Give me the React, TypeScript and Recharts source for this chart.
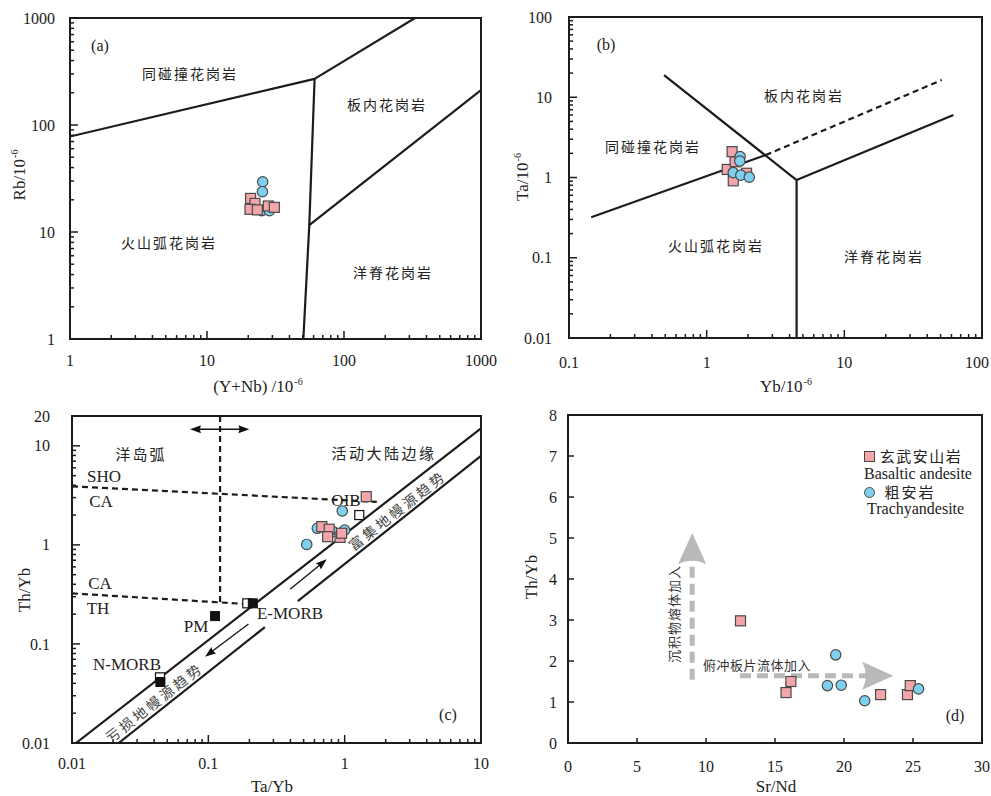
import React from 'react';
import { ScatterChart, Scatter, XAxis, YAxis, ReferenceArea, ReferenceLine } from 'recharts';

const W = 495;
const H = 400;
const SERIF = '"Liberation Serif", "Times New Roman", serif';
const CJK = '"Noto Sans CJK SC", "Noto Sans CJK JP", sans-serif';
const INK = '#1c1c1c';
const PINK = '#F3A6AA';
const BLUE = '#7FCFEF';
const EDGE = '#4a4a4a';

// ---------- (a) Rb vs Y+Nb
const aXLabels = [1, 10, 100, 1000];
const aYLabels = [1, 10, 100, 1000];
const aSquares = [
  { x: 20.8, y: 20.6 }, { x: 22.4, y: 18.5 }, { x: 20.6, y: 16.3 },
  { x: 23.3, y: 16.1 }, { x: 28.0, y: 17.5 }, { x: 31.0, y: 17.0 },
];
const aCircles = [
  { x: 25.5, y: 29.5 }, { x: 25.4, y: 23.8 }, { x: 25.1, y: 15.8 }, { x: 28.5, y: 15.8 },
];
const aSynVag = [{ x: 1, y: 78 }, { x: 61, y: 270 }, { x: 330, y: 1000 }];
const aVagOrg = [{ x: 61, y: 270 }, { x: 55.8, y: 11.6 }, { x: 50.5, y: 1 }];
const aWpgOrg = [{ x: 55.8, y: 11.6 }, { x: 1000, y: 212 }];

// ---------- (b) Ta vs Yb
const bXLabels = [0.1, 1, 10, 100];
const bYLabels = [0.01, 0.1, 1, 10, 100];
const bSquares = [
  { x: 1.41, y: 1.26 }, { x: 1.61, y: 1.57 }, { x: 1.53, y: 2.1 },
  { x: 1.56, y: 0.91 }, { x: 1.95, y: 1.13 },
];
const bCircles = [
  { x: 1.75, y: 1.82 }, { x: 1.74, y: 1.6 }, { x: 1.56, y: 1.15 },
  { x: 1.77, y: 1.07 }, { x: 2.04, y: 1.01 },
];
const bSynVag = [{ x: 0.145, y: 0.32 }, { x: 2.68, y: 1.9 }];
const bSynWpg = [{ x: 2.68, y: 1.9 }, { x: 51, y: 16.4 }];
const bVagWpg = [{ x: 0.49, y: 18.9 }, { x: 4.5, y: 0.93 }, { x: 4.5, y: 0.01 }];
const bWpgOrg = [{ x: 4.5, y: 0.93 }, { x: 62, y: 6.0 }];

// ---------- (c) Th/Yb vs Ta/Yb
const cXLabels = [0.01, 0.1, 1, 10];
const cYLabels = [0.01, 0.1, 1, 10, 20];
const cSquares = [
  { x: 1.44, y: 3.07 }, { x: 0.68, y: 1.53 }, { x: 0.77, y: 1.44 },
  { x: 0.75, y: 1.21 }, { x: 0.925, y: 1.19 }, { x: 0.95, y: 1.31 },
];
const cCircles = [
  { x: 0.96, y: 2.2 }, { x: 0.63, y: 1.47 }, { x: 0.82, y: 1.36 },
  { x: 1.0, y: 1.41 }, { x: 0.527, y: 1.01 },
];
const cRefFilled = [{ x: 0.112, y: 0.191 }, { x: 0.212, y: 0.257 }, { x: 0.0445, y: 0.0413 }];
const cRefOpen = [{ x: 0.193, y: 0.257 }, { x: 0.0442, y: 0.046 }, { x: 1.28, y: 2.0 }];
const cUpperDiag = [{ x: 0.0107, y: 0.01 }, { x: 10, y: 15 }];
const cLowerDiag1 = [{ x: 0.022, y: 0.01 }, { x: 0.26, y: 0.148 }];
const cLowerDiag2 = [{ x: 0.453, y: 0.27 }, { x: 10, y: 7.9 }];
const cShoCa = [{ x: 0.01, y: 3.9 }, { x: 1.72, y: 2.72 }];
const cCaTh = [{ x: 0.01, y: 0.324 }, { x: 0.19, y: 0.253 }];
const cVert = [{ x: 0.122, y: 20 }, { x: 0.122, y: 0.253 }];
const cArrowTop = [{ x: 0.0734, y: 14.7 }, { x: 0.2, y: 14.7 }];
const cArrowUp = [{ x: 0.398, y: 0.356 }, { x: 0.739, y: 0.715 }];
const cArrowDown = [{ x: 0.197, y: 0.159 }, { x: 0.0946, y: 0.0743 }];

// ---------- (d) Th/Yb vs Sr/Nd
const dXTicks = [0, 5, 10, 15, 20, 25, 30];
const dYTicks = [0, 1, 2, 3, 4, 5, 6, 7, 8];
const dSquares = [
  { x: 12.5, y: 2.98 }, { x: 15.8, y: 1.23 }, { x: 16.15, y: 1.5 },
  { x: 22.65, y: 1.18 }, { x: 24.6, y: 1.18 }, { x: 24.8, y: 1.4 },
];
const dCircles = [
  { x: 19.4, y: 2.15 }, { x: 18.8, y: 1.4 }, { x: 19.8, y: 1.41 },
  { x: 21.5, y: 1.03 }, { x: 25.4, y: 1.32 },
];
const dArrowUp = [{ x: 9, y: 1.54 }, { x: 9, y: 5.12 }];
const dArrowRight = [{ x: 12.46, y: 1.64 }, { x: 23.57, y: 1.64 }];

// minor + major tick positions of a log axis
const logTicks = (lo: number, hi: number) => {
  const out: number[] = [];
  for (let e = Math.floor(Math.log10(lo)); e <= Math.ceil(Math.log10(hi)); e++) {
    for (let m = 1; m <= 9; m++) {
      const v = Number((m * Math.pow(10, e)).toPrecision(3));
      if (v >= lo * 0.999 && v <= hi * 1.001) out.push(v);
    }
  }
  return out;
};
const isDecade = (v: number) => v > 0 && Math.abs(Math.log10(v) - Math.round(Math.log10(v))) < 1e-6;

// maxX: right edge the label must not pass (page edge)
const xTick = (labels: number[], dy: number, linear = false, maxX = Infinity) => (p: any) => {
  const v = p.payload.value;
  const len = linear ? 5 : isDecade(v) ? 8 : 4;
  const half = String(v).length * 4;
  const atEdge = p.x + half > maxX;
  return (
    <g>
      <line x1={p.x} y1={p.y} x2={p.x} y2={p.y - len} stroke={INK} strokeWidth={1.5} />
      {labels.includes(v) && (
        <text
          x={atEdge ? maxX : p.x}
          y={p.y + dy}
          dy="0.35em"
          textAnchor={atEdge ? 'end' : 'middle'}
          fontFamily={SERIF}
          fontSize={16}
          fill={INK}
        >
          {String(v)}
        </text>
      )}
    </g>
  );
};
const yTick = (labels: number[], gap: number, linear = false) => (p: any) => {
  const v = p.payload.value;
  const len = linear ? 6 : isDecade(v) ? 8 : 4;
  return (
    <g>
      <line x1={p.x} y1={p.y} x2={p.x + len} y2={p.y} stroke={INK} strokeWidth={1.5} />
      {labels.includes(v) && (
        <text x={p.x - gap} y={p.y} dy="0.35em" textAnchor="end" fontFamily={SERIF} fontSize={16} fill={INK}>
          {String(v)}
        </text>
      )}
    </g>
  );
};

const noShape = () => <g />;
const Square = (p: any) => (
  <rect x={p.cx - 5} y={p.cy - 5} width={10} height={10} fill={PINK} stroke={EDGE} strokeWidth={1.2} />
);
const Dot = (p: any) => <circle cx={p.cx} cy={p.cy} r={5.2} fill={BLUE} stroke={EDGE} strokeWidth={1.2} />;
const BlackSq = (p: any) => <rect x={p.cx - 4.5} y={p.cy - 4.5} width={9} height={9} fill="#111" stroke="#111" />;
const OpenSq = (p: any) => (
  <rect x={p.cx - 4.5} y={p.cy - 4.5} width={9} height={9} fill="#fff" stroke="#111" strokeWidth={1.2} />
);

const solid = { stroke: INK, strokeWidth: 2.2, strokeLinejoin: 'round' as const };
const dashed = { stroke: INK, strokeWidth: 2.2, strokeDasharray: '6 4' };
const axisLine = { stroke: INK, strokeWidth: 2 };

type ArrowOpt = { head: number; half: number; notch: number; color: string; width: number; dash?: string; both?: boolean };
const arrowShape = (o: ArrowOpt) => (p: any) => {
  const { x1, y1, x2, y2 } = p;
  const L = Math.hypot(x2 - x1, y2 - y1) || 1;
  const ux = (x2 - x1) / L;
  const uy = (y2 - y1) / L;
  const nx = -uy;
  const ny = ux;
  const head = (tx: number, ty: number, sx: number, sy: number) => {
    const bx = tx - sx * o.head;
    const by = ty - sy * o.head;
    return (
      <path
        d={`M${tx},${ty} L${bx + nx * o.half},${by + ny * o.half} Q${bx + sx * o.notch},${by + sy * o.notch} ${bx - nx * o.half},${by - ny * o.half} Z`}
        fill={o.color}
      />
    );
  };
  const sx = o.both ? x1 + ux * (o.head - o.notch) : x1;
  const sy = o.both ? y1 + uy * (o.head - o.notch) : y1;
  const ex = x2 - ux * (o.head - o.notch);
  const ey = y2 - uy * (o.head - o.notch);
  return (
    <g>
      <line x1={sx} y1={sy} x2={ex} y2={ey} stroke={o.color} strokeWidth={o.width} strokeDasharray={o.dash} />
      {head(x2, y2, ux, uy)}
      {o.both && head(x1, y1, -ux, -uy)}
    </g>
  );
};
const thinArrow = { head: 11, half: 4, notch: 2, color: '#111', width: 1.3 };
const grayArrow = { head: 31, half: 14, notch: 7, color: '#b9b9b9', width: 5, dash: '11 6' };

const Txt = ({ x, y, children, size = 16, font = SERIF, rot = 0, ls = 0, color = '#222', left = false }: any) => (
  <div
    style={{
      position: 'absolute', left: x, top: y, fontSize: size, fontFamily: font, letterSpacing: ls, color,
      whiteSpace: 'nowrap', lineHeight: 1,
      transform: `translate(${left ? '0' : '-50%'},-50%) rotate(${rot}deg)`,
    }}
  >
    {children}
  </div>
);
const Sup = () => <span style={{ fontSize: 10, verticalAlign: '0.75em', marginLeft: 1 }}>-6</span>;

const axisCommon = { type: 'number' as const, allowDataOverflow: true, interval: 0 as const, tickLine: false, tickSize: 0, tickMargin: 0, axisLine };

const App = () => (
  <div style={{ position: 'absolute', left: 0, top: 0, width: 991, height: 796, background: '#fff', overflow: 'hidden' }}>
    {/* (a) */}
    <div style={{ position: 'absolute', left: 0, top: 0 }}>
      <ScatterChart width={W + 20} height={H} margin={{ top: 18, right: 34, bottom: 0, left: 0 }}>
        <XAxis {...axisCommon} dataKey="x" scale="log" domain={[1, 1000]} ticks={logTicks(1, 1000)} tick={xTick(aXLabels, 21)} height={61} />
        <YAxis {...axisCommon} dataKey="y" scale="log" domain={[1, 1000]} ticks={logTicks(1, 1000)} tick={yTick(aYLabels, 15)} width={70} />
        <ReferenceArea x1={1} x2={1000} y1={1} y2={1000} fill="none" stroke={INK} strokeWidth={2} ifOverflow="visible" />
        <Scatter data={aSynVag} line={solid} shape={noShape} isAnimationActive={false} />
        <Scatter data={aVagOrg} line={solid} shape={noShape} isAnimationActive={false} />
        <Scatter data={aWpgOrg} line={solid} shape={noShape} isAnimationActive={false} />
        <Scatter data={aCircles} shape={Dot} isAnimationActive={false} />
        <Scatter data={aSquares} shape={Square} isAnimationActive={false} />
      </ScatterChart>
    </div>

    {/* (b) */}
    <div style={{ position: 'absolute', left: 495, top: 0 }}>
      <ScatterChart width={W + 20} height={H} margin={{ top: 17, right: 28, bottom: 0, left: 0 }}>
        <XAxis {...axisCommon} dataKey="x" scale="log" domain={[0.1, 100]} ticks={logTicks(0.1, 100)} tick={xTick(bXLabels, 24, false, 494)} height={62} />
        <YAxis {...axisCommon} dataKey="y" scale="log" domain={[0.01, 100]} ticks={logTicks(0.01, 100)} tick={yTick(bYLabels, 17)} width={74} />
        <ReferenceArea x1={0.1} x2={100} y1={0.01} y2={100} fill="none" stroke={INK} strokeWidth={2} ifOverflow="visible" />
        <Scatter data={bSynVag} line={solid} shape={noShape} isAnimationActive={false} />
        <Scatter data={bSynWpg} line={dashed} shape={noShape} isAnimationActive={false} />
        <Scatter data={bVagWpg} line={solid} shape={noShape} isAnimationActive={false} />
        <Scatter data={bWpgOrg} line={solid} shape={noShape} isAnimationActive={false} />
        <Scatter data={bSquares} shape={Square} isAnimationActive={false} />
        <Scatter data={bCircles} shape={Dot} isAnimationActive={false} />
      </ScatterChart>
    </div>

    {/* (c) */}
    <div style={{ position: 'absolute', left: 0, top: 400 }}>
      <ScatterChart width={W} height={H} margin={{ top: 16, right: 14, bottom: 0, left: 0 }}>
        <XAxis {...axisCommon} dataKey="x" scale="log" domain={[0.01, 10]} ticks={logTicks(0.01, 10)} tick={xTick(cXLabels, 20)} height={57} />
        <YAxis {...axisCommon} dataKey="y" scale="log" domain={[0.01, 20]} ticks={logTicks(0.01, 20)} tick={yTick(cYLabels, 22)} width={72} />
        <ReferenceArea x1={0.01} x2={10} y1={0.01} y2={20} fill="none" stroke={INK} strokeWidth={2} ifOverflow="visible" />
        <Scatter data={cUpperDiag} line={solid} shape={noShape} isAnimationActive={false} />
        <Scatter data={cLowerDiag1} line={solid} shape={noShape} isAnimationActive={false} />
        <Scatter data={cLowerDiag2} line={solid} shape={noShape} isAnimationActive={false} />
        <Scatter data={cShoCa} line={dashed} shape={noShape} isAnimationActive={false} />
        <Scatter data={cCaTh} line={dashed} shape={noShape} isAnimationActive={false} />
        <Scatter data={cVert} line={dashed} shape={noShape} isAnimationActive={false} />
        <ReferenceLine segment={cArrowTop} shape={arrowShape({ ...thinArrow, both: true })} />
        <ReferenceLine segment={cArrowUp} shape={arrowShape(thinArrow)} />
        <ReferenceLine segment={cArrowDown} shape={arrowShape(thinArrow)} />
        <Scatter data={cRefOpen} shape={OpenSq} isAnimationActive={false} />
        <Scatter data={cRefFilled} shape={BlackSq} isAnimationActive={false} />
        <Scatter data={cCircles} shape={Dot} isAnimationActive={false} />
        <Scatter data={cSquares} shape={Square} isAnimationActive={false} />
      </ScatterChart>
    </div>

    {/* (d) */}
    <div style={{ position: 'absolute', left: 495, top: 400 }}>
      <ScatterChart width={W} height={H} margin={{ top: 15, right: 8, bottom: 0, left: 0 }}>
        <XAxis {...axisCommon} dataKey="x" domain={[0, 30]} ticks={dXTicks} tick={xTick(dXTicks, 23, true)} height={57} />
        <YAxis {...axisCommon} dataKey="y" domain={[0, 8]} ticks={dYTicks} tick={yTick(dYTicks, 11, true)} width={73} />
        <ReferenceArea x1={0} x2={30} y1={0} y2={8} fill="none" stroke={INK} strokeWidth={2} ifOverflow="visible" />
        <ReferenceLine segment={dArrowUp} shape={arrowShape(grayArrow)} />
        <ReferenceLine segment={dArrowRight} shape={arrowShape(grayArrow)} />
        <Scatter data={dSquares} shape={Square} isAnimationActive={false} />
        <Scatter data={dCircles} shape={Dot} isAnimationActive={false} />
      </ScatterChart>
    </div>

    {/* labels (a) */}
    <Txt x={100} y={46}>(a)</Txt>
    <Txt x={190} y={73} font={CJK} size={14} ls={2}>同碰撞花岗岩</Txt>
    <Txt x={387} y={104} font={CJK} size={14} ls={2}>板内花岗岩</Txt>
    <Txt x={169} y={242} font={CJK} size={14} ls={2}>火山弧花岗岩</Txt>
    <Txt x={393} y={272} font={CJK} size={14} ls={2}>洋脊花岗岩</Txt>
    <Txt x={258} y={386} size={17}>(Y+Nb) /10<Sup /></Txt>
    <Txt x={19} y={175} size={17} rot={-90}>Rb/10<Sup /></Txt>

    {/* labels (b) */}
    <Txt x={606} y={45}>(b)</Txt>
    <Txt x={804} y={95} font={CJK} size={14} ls={2}>板内花岗岩</Txt>
    <Txt x={653} y={146} font={CJK} size={14} ls={2}>同碰撞花岗岩</Txt>
    <Txt x={716} y={245} font={CJK} size={14} ls={2}>火山弧花岗岩</Txt>
    <Txt x={884} y={256} font={CJK} size={14} ls={2}>洋脊花岗岩</Txt>
    <Txt x={786} y={386} size={17}>Yb/10<Sup /></Txt>
    <Txt x={522} y={177} size={17} rot={-90}>Ta/10<Sup /></Txt>

    {/* labels (c) */}
    <Txt x={141} y={453} font={CJK} size={15} ls={2}>洋岛弧</Txt>
    <Txt x={384} y={452} font={CJK} size={15} ls={2.5}>活动大陆边缘</Txt>
    <Txt x={104} y={476} size={17}>SHO</Txt>
    <Txt x={101} y={501} size={17}>CA</Txt>
    <Txt x={100} y={583} size={17}>CA</Txt>
    <Txt x={98} y={608} size={17}>TH</Txt>
    <Txt x={196} y={626} size={17}>PM</Txt>
    <Txt x={290} y={613} size={17}>E-MORB</Txt>
    <Txt x={127} y={664} size={17}>N-MORB</Txt>
    <Txt x={346} y={500} size={17}>OIB</Txt>
    <Txt x={448} y={715}>(c)</Txt>
    <Txt x={397} y={510} font={CJK} size={14} ls={3} rot={-38} color="#444">富集地幔源趋势</Txt>
    <Txt x={154} y={702} font={CJK} size={14} ls={3} rot={-38} color="#444">亏损地幔源趋势</Txt>
    <Txt x={24} y={590} size={17} rot={-90}>Th/Yb</Txt>
    <Txt x={272} y={786} size={17}>Ta/Yb</Txt>

    {/* labels (d) */}
    <div style={{ position: 'absolute', left: 864, top: 451, width: 9, height: 9, background: PINK, border: `1px solid ${EDGE}` }} />
    <Txt x={921} y={455} font={CJK} size={15} ls={1.5}>玄武安山岩</Txt>
    <Txt x={864} y={474} size={16} left>Basaltic andesite</Txt>
    <div style={{ position: 'absolute', left: 864, top: 487, width: 9, height: 9, borderRadius: '50%', background: BLUE, border: `1px solid ${EDGE}` }} />
    <Txt x={910} y={491} font={CJK} size={15} ls={2}>粗安岩</Txt>
    <Txt x={867} y={509} size={16} left>Trachyandesite</Txt>
    <Txt x={673} y={614} font={CJK} size={13} ls={1} rot={-90} color="#333">沉积物熔体加入</Txt>
    <Txt x={757} y={664} font={CJK} size={13} ls={0.5} color="#333">俯冲板片流体加入</Txt>
    <Txt x={955} y={716}>(d)</Txt>
    <Txt x={531} y={577} size={17} rot={-90}>Th/Yb</Txt>
    <Txt x={776} y={786} size={17}>Sr/Nd</Txt>
  </div>
);

export default App;
